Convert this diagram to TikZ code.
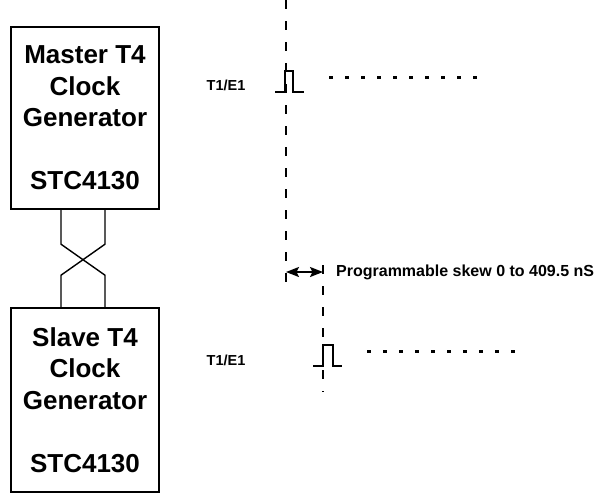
\documentclass[tikz,border=0pt]{standalone}
\usepackage{fontspec}
\setmainfont{Liberation Sans}
\usetikzlibrary{arrows.meta,positioning}
\tikzset{%
	block/.style    = {draw, rectangle, line width=2.4pt, minimum width=148pt, minimum height=182pt, align=center, inner sep=0pt, font=\fontsize{26}{31.5}\selectfont\bfseries},
	wire/.style     = {line width=1.4pt},
	timeline/.style = {line width=2.4pt, dash pattern=on 9pt off 12pt},
	trail/.style    = {line width=3pt, dash pattern=on 4pt off 12pt},
	pulse/.style    = {line width=2.4pt},
	tag/.style      = {inner sep=0pt, font=\fontsize{14.5}{14.5}\selectfont\bfseries},
	skewarrow/.style= {line width=2pt, <->, >={Stealth[length=13pt,width=10pt,inset=2.5pt]}},
}
\begin{document}
\begin{tikzpicture}[x=1pt,y=-1pt]
	\useasboundingbox (0,0) rectangle (594,493);
	\node [block] (master) at (85,118) {Master T4\\Clock\\Generator\\[31.5pt]STC4130};
	\node [block, minimum height=184pt] (slave) at (85,400) {Slave T4\\Clock\\Generator\\[31.5pt]STC4130};
	
	% crossed links
	\draw[wire] ([xshift=-24pt]master.south) -- ++(0,34) -- ++(44,31) -- ([xshift=20pt]slave.north);
	\draw[wire] ([xshift=20pt]master.south) -- ++(0,34) -- ++(-44,31) -- ([xshift=-24pt]slave.north);
	
	% time lines
	\coordinate (ta) at (286,0);
	\coordinate (tb) at (323,265);
	\draw[timeline] (ta) -- ++(0,290);
	\draw[timeline] (tb) -- ++(0,127);
	
	\node [tag] (lbla) at (226,85) {T1/E1};
	\node [tag] (lblb) at (226,360) {T1/E1};
	
	% pulses
	\draw[pulse] (275,92) -- ++(10,0) -- ++(0,-21) -- ++(8,0) -- ++(0,21) -- ++(11,0);
	\draw[pulse] (313,366) -- ++(10,0) -- ++(0,-21) -- ++(10,0) -- ++(0,21) -- ++(9,0);
	\draw[trail] (329,77) -- (477,77);
	\draw[trail] (367,351) -- (515,351);
	
	% skew
	\coordinate (ska) at (ta |- 0,272);
	\coordinate (skb) at (tb |- 0,272);
	\draw[skewarrow] (ska) -- (skb);
	\node [inner sep=0pt, anchor=west, font=\fontsize{16}{16}\selectfont\bfseries] (skew) at (336,272) {Programmable skew 0 to 409.5 nS};
\end{tikzpicture}
\end{document}
